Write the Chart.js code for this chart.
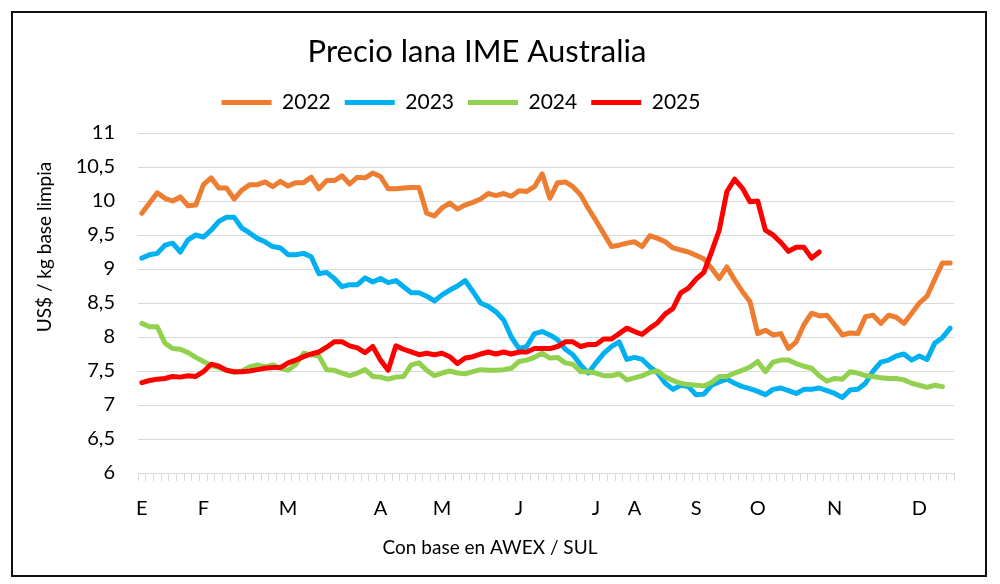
<!DOCTYPE html>
<html>
<head>
<meta charset="utf-8">
<title>Precio lana IME Australia</title>
<script src="https://cdn.jsdelivr.net/npm/chart.js@4.4.1/dist/chart.umd.min.js"></script>
<style>
  html, body { margin: 0; padding: 0; background: #fff; overflow: hidden; }
  #wrap { position: relative; width: 1000px; height: 584px; overflow: hidden; }
  #chart { position: absolute; left: -40px; top: 0; }
  #frame { position: absolute; left: 11px; top: 11px; width: 972px; height: 562px;
           border: 2px solid #111; pointer-events: none; }
</style>
</head>
<body>
<div id="wrap">
  <canvas id="chart" width="1010" height="584"></canvas>
  <div id="frame"></div>
</div>
<script>
// canvas is shifted 40px left so the legend sits where it does in the original
const SHIFT = 40;

const monthNames = ['E', 'F', 'M', 'A', 'M', 'J', 'J', 'A', 'S', 'O', 'N', 'D'];
const monthIdx = [0, 8, 19, 31, 39, 49, 59, 64, 72, 80, 90, 101];

const years = ['2022', '2023', '2024', '2025'];
const colors = ['#ED7D31', '#00B0F0', '#92D050', '#FF0000'];

const v2022 = [
  9.82, 9.97, 10.12, 10.04, 10.00, 10.06, 9.93, 9.94, 10.24, 10.34,
  10.19, 10.19, 10.03, 10.16, 10.24, 10.24, 10.28, 10.21, 10.29, 10.22,
  10.27, 10.27, 10.35, 10.18, 10.30, 10.30, 10.37, 10.25, 10.35, 10.34,
  10.41, 10.36, 10.18, 10.18, 10.19, 10.20, 10.20, 9.82, 9.78, 9.90,
  9.97, 9.88, 9.94, 9.98, 10.03, 10.11, 10.08, 10.11, 10.07, 10.15,
  10.14, 10.21, 10.40, 10.04, 10.27, 10.28, 10.21, 10.09, 9.89, 9.71,
  9.52, 9.33, 9.35, 9.38, 9.40, 9.33, 9.49, 9.45, 9.40, 9.31,
  9.28, 9.25, 9.20, 9.15, 9.01, 8.86, 9.03, 8.84, 8.67, 8.52,
  8.05, 8.10, 8.03, 8.05, 7.83, 7.93, 8.18, 8.35, 8.31, 8.32,
  8.18, 8.03, 8.06, 8.05, 8.30, 8.32, 8.20, 8.32, 8.29, 8.20,
  8.35, 8.50, 8.60, 8.85, 9.09, 9.09
];

const v2023 = [
  9.16, 9.21, 9.23, 9.35, 9.38, 9.25, 9.43, 9.50, 9.47, 9.57,
  9.70, 9.76, 9.76, 9.60, 9.53, 9.45, 9.40, 9.33, 9.31, 9.21,
  9.21, 9.23, 9.18, 8.93, 8.95, 8.86, 8.74, 8.77, 8.77, 8.87,
  8.81, 8.86, 8.80, 8.83, 8.74, 8.65, 8.65, 8.60, 8.53, 8.62,
  8.69, 8.75, 8.83, 8.67, 8.50, 8.45, 8.37, 8.25, 8.00, 7.83,
  7.86, 8.05, 8.08, 8.03, 7.96, 7.82, 7.74, 7.59, 7.47, 7.62,
  7.76, 7.86, 7.93, 7.67, 7.70, 7.67, 7.56, 7.47, 7.32, 7.23,
  7.29, 7.27, 7.15, 7.16, 7.29, 7.34, 7.38, 7.32, 7.27, 7.24,
  7.20, 7.15, 7.23, 7.25, 7.21, 7.17, 7.23, 7.23, 7.25, 7.21,
  7.17, 7.11, 7.22, 7.23, 7.32, 7.50, 7.63, 7.66, 7.72, 7.75,
  7.66, 7.72, 7.67, 7.91, 7.99, 8.13
];

const v2024 = [
  8.20, 8.15, 8.15, 7.91, 7.83, 7.82, 7.77, 7.70, 7.64, 7.58,
  7.55, 7.51, 7.48, 7.50, 7.56, 7.59, 7.56, 7.59, 7.54, 7.51,
  7.60, 7.76, 7.74, 7.72, 7.52, 7.51, 7.47, 7.43, 7.47, 7.52,
  7.42, 7.41, 7.38, 7.41, 7.42, 7.59, 7.62, 7.51, 7.43, 7.47,
  7.50, 7.47, 7.46, 7.49, 7.52, 7.51, 7.51, 7.52, 7.54, 7.64,
  7.66, 7.70, 7.76, 7.69, 7.70, 7.62, 7.60, 7.49, 7.49, 7.47,
  7.43, 7.43, 7.46, 7.37, 7.40, 7.43, 7.48, 7.50, 7.41, 7.36,
  7.32, 7.30, 7.29, 7.28, 7.33, 7.42, 7.42, 7.47, 7.51, 7.56,
  7.64, 7.49, 7.63, 7.66, 7.66, 7.61, 7.57, 7.54, 7.43, 7.35,
  7.39, 7.38, 7.49, 7.47, 7.43, 7.42, 7.40, 7.39, 7.39, 7.37,
  7.32, 7.29, 7.26, 7.29, 7.27, null
];

const v2025 = [
  7.33, 7.36, 7.38, 7.39, 7.42, 7.41, 7.43, 7.42, 7.49, 7.60,
  7.57, 7.51, 7.49, 7.49, 7.50, 7.52, 7.54, 7.55, 7.55, 7.62,
  7.66, 7.71, 7.75, 7.78, 7.85, 7.93, 7.93, 7.87, 7.84, 7.77,
  7.86, 7.66, 7.51, 7.87, 7.82, 7.78, 7.74, 7.76, 7.74, 7.76,
  7.71, 7.61, 7.69, 7.71, 7.75, 7.78, 7.75, 7.78, 7.75, 7.78,
  7.78, 7.83, 7.83, 7.83, 7.86, 7.93, 7.93, 7.86, 7.89, 7.89,
  7.97, 7.97, 8.05, 8.13, 8.08, 8.04, 8.13, 8.21, 8.34, 8.42,
  8.65, 8.72, 8.85, 8.95, 9.25, 9.57, 10.14, 10.32, 10.19, 9.99,
  10.00, 9.57, 9.50, 9.39, 9.26, 9.32, 9.32, 9.16, 9.25, null,
  null, null, null, null, null, null, null, null, null, null,
  null, null, null, null, null, null
];

const series = [v2022, v2023, v2024, v2025];

// one category per sale; only the month starts get a letter
const labels = v2022.map(() => '');
monthIdx.forEach((k, j) => { labels[k] = monthNames[j]; });

// title and axis titles sit off-centre in the original, so draw them by hand
const textPlugin = {
  id: 'texts',
  afterDraw(chart) {
    const ctx = chart.ctx;
    ctx.save();
    ctx.fillStyle = '#000';
    ctx.textAlign = 'center';
    ctx.textBaseline = 'middle';
    ctx.font = '31px Lato';
    ctx.fillText('Precio lana IME Australia', 477 + SHIFT, 52);
    ctx.font = '19px Lato';
    ctx.fillText('Con base en AWEX / SUL', 490 + SHIFT, 548);
    ctx.translate(45 + SHIFT, 247);
    ctx.rotate(-Math.PI / 2);
    ctx.font = '19px Lato';
    ctx.fillText('US$ / kg base limpia', 0, 0);
    ctx.restore();
  }
};

// a bit of room between legend and plot
const legendGap = {
  id: 'legendGap',
  beforeInit(chart) {
    const fit = chart.legend.fit;
    chart.legend.fit = function () {
      fit.bind(chart.legend)();
      this.height += 10;
    };
  }
};

const ctx = document.getElementById('chart').getContext('2d');
new Chart(ctx, {
  type: 'line',
  data: {
    labels: labels,
    datasets: series.map((d, i) => ({
      label: years[i],
      data: d,
      borderColor: colors[i],
      backgroundColor: colors[i],
      borderWidth: 5,
      borderCapStyle: 'round',
      borderJoinStyle: 'round',
      pointRadius: 0,
      tension: 0,
      fill: false,
      order: series.length - i
    }))
  },
  options: {
    responsive: false,
    animation: false,
    layout: { padding: { top: 78, left: 8, right: 16, bottom: 0 } },
    plugins: {
      legend: {
        position: 'top',
        labels: {
          usePointStyle: true,
          pointStyle: 'line',
          pointStyleWidth: 50,
          padding: 14,
          color: '#000',
          font: { family: 'Lato', size: 21 },
          sort: (a, b) => a.datasetIndex - b.datasetIndex
        }
      },
      title: { display: false },
      tooltip: { enabled: false }
    },
    scales: {
      x: {
        offset: true,
        grid: { offset: true, drawOnChartArea: false, color: '#d9d9d9', tickLength: 8 },
        border: { color: '#d9d9d9' },
        ticks: {
          autoSkip: false, maxRotation: 0, minRotation: 0, padding: 16,
          color: '#000', font: { family: 'Lato', size: 20 }
        },
        afterFit(scale) { scale.height = 111; }
      },
      y: {
        min: 6,
        max: 11,
        grid: { color: '#d9d9d9', drawTicks: false },
        border: { display: false },
        ticks: {
          stepSize: 0.5, padding: 23,
          color: '#000', font: { family: 'Lato', size: 20 },
          callback: v => String(v).replace('.', ',')
        },
        afterFit(scale) { scale.width = 170; }
      }
    }
  },
  plugins: [textPlugin, legendGap]
});
</script>
</body>
</html>
